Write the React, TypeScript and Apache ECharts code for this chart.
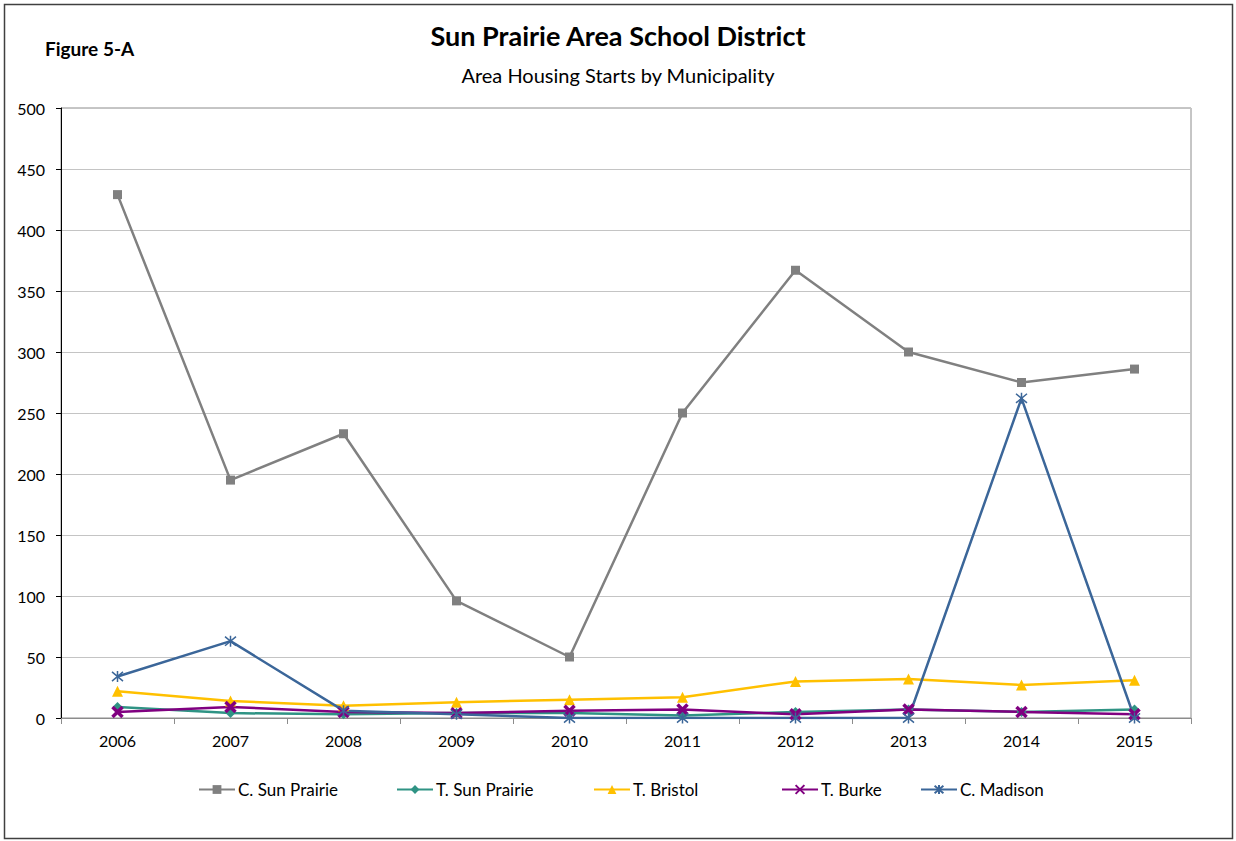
import React, { useEffect, useRef } from "react";
import * as echarts from "echarts";

const years = ["2006", "2007", "2008", "2009", "2010", "2011", "2012", "2013", "2014", "2015"];
const cSunPrairie = [429, 195, 233, 96, 50, 250, 367, 300, 275, 286];
const tSunPrairie = [9, 4, 3, 4, 4, 2, 5, 7, 5, 7];
const tBristol = [22, 14, 10, 13, 15, 17, 30, 32, 27, 31];
const tBurke = [5, 9, 5, 4, 6, 7, 3, 7, 5, 3];
const cMadison = [34, 63, 6, 3, 0, 0, 0, 0, 262, 0];

const seriesNames = ["C. Sun Prairie", "T. Sun Prairie", "T. Bristol", "T. Burke", "C. Madison"];
const seriesColors = ["#808080", "#2f9384", "#ffc000", "#800080", "#3b6699"];
const legendLefts = [193, 391, 588, 776, 915];

const FONT = "Lato, 'Open Sans', sans-serif";

export default function App() {
  const ref = useRef<HTMLDivElement>(null);
  useEffect(() => {
    document.body.style.margin = "0";
    const chart = echarts.init(ref.current!, null, { renderer: "svg" });
    const datas = [cSunPrairie, tSunPrairie, tBristol, tBurke, cMadison];
    const symbols = [
      "rect",
      "diamond",
      "triangle",
      "path://M0,0 L10,10 M10,0 L0,10",
      "path://M0,0 L10,10 M10,0 L0,10 M5,-1 L5,11",
    ];
    const sizes = [9, 10, 11, 10, 11];
    const series = seriesNames.map((name, i) => {
      const stroked = i >= 3;
      return {
        name,
        type: "line",
        data: datas[i],
        symbol: symbols[i],
        symbolSize: sizes[i],
        showAllSymbol: true,
        lineStyle: { color: seriesColors[i], width: 2.5 },
        itemStyle: stroked
          ? { color: seriesColors[i], borderColor: seriesColors[i], borderWidth: i === 3 ? 3.5 : 1.5 }
          : { color: seriesColors[i] },
        emphasis: { disabled: true },
      };
    });
    chart.setOption({
      animation: false,
      textStyle: { fontFamily: FONT },
      title: [
        {
          text: "Sun Prairie Area School District",
          left: "center",
          top: 17,
          textStyle: { fontFamily: FONT, fontSize: 27, fontWeight: "bold", color: "#000" },
        },
        {
          text: "Area Housing Starts by Municipality",
          left: "center",
          top: 60,
          textStyle: { fontFamily: FONT, fontSize: 20, fontWeight: "normal", color: "#000" },
        },
        {
          text: "Figure 5-A",
          left: 40,
          top: 34,
          textStyle: { fontFamily: FONT, fontSize: 19, fontWeight: "bold", color: "#000" },
        },
      ],
      legend: seriesNames.map((name, i) => ({
        data: [name],
        left: legendLefts[i],
        top: 776,
        itemWidth: 36,
        itemHeight: 11,
        itemGap: 4,
        selectedMode: false,
        textStyle: { fontFamily: FONT, fontSize: 17, color: "#000", padding: [0, 0, 0, -2] },
      })),
      grid: {
        left: 61,
        right: 45,
        top: 108,
        bottom: 123,
        show: true,
        borderColor: "#8c8c8c",
        borderWidth: 1,
      },
      xAxis: {
        type: "category",
        data: years,
        boundaryGap: true,
        axisLine: { lineStyle: { color: "#8c8c8c", width: 1 } },
        axisTick: { show: true, inside: false, length: 6, lineStyle: { color: "#8c8c8c" } },
        axisLabel: { color: "#000", fontSize: 16, margin: 14, fontFamily: FONT },
        splitLine: { show: false },
      },
      yAxis: {
        type: "value",
        min: 0,
        max: 500,
        interval: 50,
        axisLine: { show: true, lineStyle: { color: "#000", width: 1 } },
        axisTick: { show: true, inside: false, length: 5, lineStyle: { color: "#000" } },
        axisLabel: { color: "#000", fontSize: 16, margin: 16, fontFamily: FONT },
        splitLine: { show: true, lineStyle: { color: "#c4c4c4", width: 1 } },
      },
      graphic: [
        {
          type: "rect",
          shape: { x: 4.5, y: 4.5, width: 1228, height: 834 },
          style: { fill: "none", stroke: "#404040", lineWidth: 1.5 },
          silent: true,
        },
      ],
      series,
    });
    return () => chart.dispose();
  }, []);
  return <div ref={ref} style={{ width: 1236, height: 841 }} />;
}
